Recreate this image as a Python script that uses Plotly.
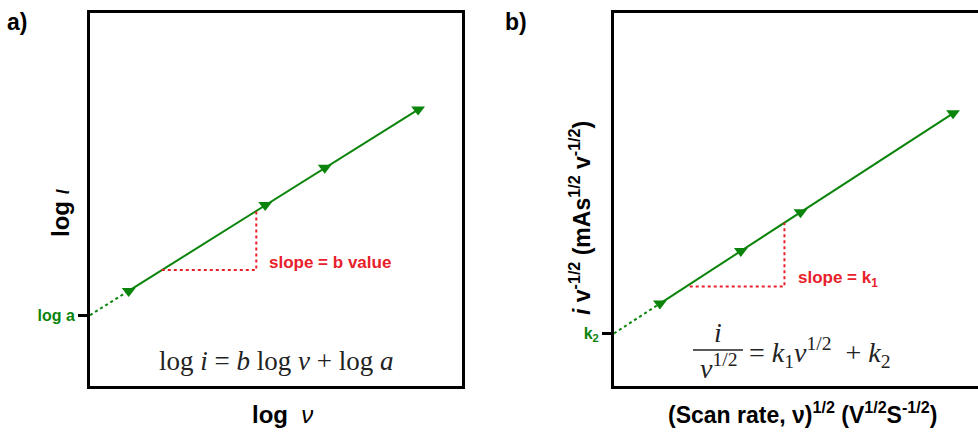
import plotly.graph_objects as go

W, H = 978, 432

# ---------------- data ----------------
# panel a (log i vs log v)
a_log_v = [1.04, 4.71, 6.31, 8.82]
a_log_i = [2.55, 4.85, 5.85, 7.41]
a_intercept = 1.9            # log a
a_slope_x = [1.93, 4.47, 4.47]
a_slope_y = [3.11, 3.11, 4.69]
a_tick_text = ["log a"]

# panel b (i v^-1/2 vs v^1/2)
b_sqrt_v = [1.23, 3.40, 5.00, 9.09]
b_norm_i = [2.21, 3.62, 4.66, 7.31]
b_intercept = 1.41           # k2
b_slope_x = [2.03, 4.57, 4.57]
b_slope_y = [2.67, 2.67, 4.38]
b_tick_text = ["k<sub>2</sub>"]

GREEN = "#0a840a"
RED = "#e8202a"
SANS = "Liberation Sans, Arial, sans-serif"
SERIF = "Liberation Serif, Times New Roman, serif"


def px(x):
    return x / W


def py(y):
    return 1 - y / H


fig = go.Figure()

# panel a traces
fig.add_trace(go.Scatter(x=[0, a_log_v[0]], y=[a_intercept, a_log_i[0]], mode="lines",
                         line=dict(color=GREEN, width=2, dash="dot"), xaxis="x", yaxis="y"))
fig.add_trace(go.Scatter(x=a_log_v, y=a_log_i, mode="lines",
                         line=dict(color=GREEN, width=2), xaxis="x", yaxis="y"))
fig.add_trace(go.Scatter(x=a_slope_x, y=a_slope_y, mode="lines",
                         line=dict(color=RED, width=2, dash="dot"), xaxis="x", yaxis="y"))
fig.add_trace(go.Scatter(x=a_log_v, y=a_log_i, mode="markers",
                         marker=dict(symbol="triangle-down", size=12, color=GREEN),
                         xaxis="x", yaxis="y"))

# panel b traces
fig.add_trace(go.Scatter(x=[0, b_sqrt_v[0]], y=[b_intercept, b_norm_i[0]], mode="lines",
                         line=dict(color=GREEN, width=2, dash="dot"), xaxis="x2", yaxis="y2"))
fig.add_trace(go.Scatter(x=b_sqrt_v, y=b_norm_i, mode="lines",
                         line=dict(color=GREEN, width=2), xaxis="x2", yaxis="y2"))
fig.add_trace(go.Scatter(x=b_slope_x, y=b_slope_y, mode="lines",
                         line=dict(color=RED, width=2, dash="dot"), xaxis="x2", yaxis="y2"))
fig.add_trace(go.Scatter(x=b_sqrt_v, y=b_norm_i, mode="markers",
                         marker=dict(symbol="triangle-down", size=12, color=GREEN),
                         xaxis="x2", yaxis="y2"))

ydom = [py(386), py(13)]
common_x = dict(showgrid=False, zeroline=False, showticklabels=False, ticks="",
                showline=True, linecolor="black", linewidth=3, mirror=True,
                fixedrange=True, automargin=False)
common_y = dict(showgrid=False, zeroline=False, ticks="outside", ticklen=9, tickwidth=3,
                tickcolor="black", showline=True, linecolor="black", linewidth=3,
                tickfont=dict(family=SANS, size=16, color=GREEN, weight="bold"),
                range=[0, 10], domain=ydom, fixedrange=True, automargin=False)

fig.update_layout(
    width=W, height=H, margin=dict(l=0, r=0, t=0, b=0, autoexpand=False),
    paper_bgcolor="white", plot_bgcolor="white", showlegend=False,
    xaxis=dict(**common_x, domain=[px(90), px(462)], range=[0, 10], anchor="y"),
    yaxis=dict(**common_y, mirror=True, anchor="x",
               tickvals=[a_intercept], ticktext=a_tick_text),
    xaxis2=dict(**common_x, domain=[px(614), 1.0],
                range=[0, (978 - 613) / 37.4], anchor="y2"),
    yaxis2=dict(**common_y, mirror=False, anchor="x2",
                tickvals=[b_intercept], ticktext=b_tick_text),
)

ann = []
P = dict(xref="paper", yref="paper", showarrow=False)

# panel letters
ann.append(dict(**P, x=px(5), y=py(22), text="<b>a)</b>", xanchor="left",
                yanchor="middle", font=dict(family=SANS, size=23, color="black")))
ann.append(dict(**P, x=px(503), y=py(22), text="<b>b)</b>", xanchor="left",
                yanchor="middle", font=dict(family=SANS, size=23, color="black")))

# panel a labels
ann.append(dict(**P, x=px(60), y=py(213), text="<b>log</b> <i>ι</i>",
                textangle=-90, xanchor="center", yanchor="middle",
                font=dict(family=SANS, size=24, color="black")))
ann.append(dict(**P, x=px(282), y=py(414), text="<b>log</b>  <i>ν</i>",
                xanchor="center", yanchor="middle",
                font=dict(family=SANS, size=24, color="black")))
ann.append(dict(**P, x=px(267), y=py(262), text="<b>slope = b value</b>",
                xanchor="left", yanchor="middle",
                font=dict(family=SANS, size=17, color=RED)))
ann.append(dict(**P, x=px(276), y=py(361),
                text="log <i>i</i> = <i>b</i> log <i>v</i> + log <i>a</i>",
                xanchor="center", yanchor="middle",
                font=dict(family=SERIF, size=27, color="#222")))

# panel b labels
ann.append(dict(**P, x=px(580), y=py(218),
                text="<b><i>i</i> v<sup>-1/2</sup> (mAs<sup>1/2</sup> v<sup>-1/2</sup>)</b>",
                textangle=-90, xanchor="center", yanchor="middle",
                font=dict(family=SANS, size=23, color="black")))
ann.append(dict(**P, x=px(802), y=py(413),
                text="<b>(Scan rate, ν)<sup>1/2</sup> (V<sup>1/2</sup>S<sup>-1/2</sup>)</b>",
                xanchor="center", yanchor="middle",
                font=dict(family=SANS, size=23, color="black")))
ann.append(dict(**P, x=px(796), y=py(279), text="<b>slope = k<sub>1</sub></b>",
                xanchor="left", yanchor="middle",
                font=dict(family=SANS, size=17, color=RED)))
# equation b: fraction
ann.append(dict(**P, x=px(718), y=py(332), text="<i>i</i>",
                xanchor="center", yanchor="middle",
                font=dict(family=SERIF, size=28, color="#222")))
ann.append(dict(**P, x=px(718), y=py(366), text="<i>v</i><sup>1/2</sup>",
                xanchor="center", yanchor="middle",
                font=dict(family=SERIF, size=28, color="#222")))
ann.append(dict(**P, x=px(747), y=py(352),
                text="= <i>k</i><sub>1</sub><i>v</i><sup>1/2</sup>&nbsp; + <i>k</i><sub>2</sub>",
                xanchor="left", yanchor="middle",
                font=dict(family=SERIF, size=28, color="#222")))

fig.update_layout(annotations=ann)
fig.add_shape(type="line", xref="paper", yref="paper", x0=px(693), x1=px(743),
              y0=py(350), y1=py(350), line=dict(color="#222", width=1.5))

fig.write_html("out.html", config={"displayModeBar": False},
               post_script="document.body.style.margin='0';")
